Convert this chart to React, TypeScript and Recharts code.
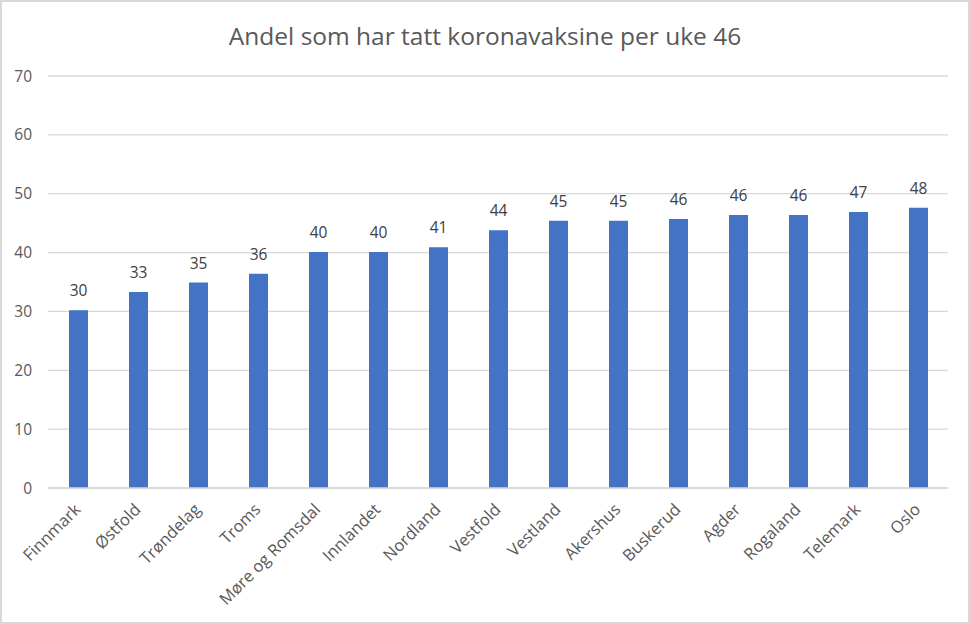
import React from "react";
import { BarChart, Bar, XAxis, YAxis, CartesianGrid, LabelList } from "recharts";

const categories = ["Finnmark", "Østfold", "Trøndelag", "Troms", "Møre og Romsdal", "Innlandet", "Nordland", "Vestfold", "Vestland", "Akershus", "Buskerud", "Agder", "Rogaland", "Telemark", "Oslo"];
const values = [30.2, 33.3, 34.9, 36.4, 40.1, 40.1, 40.9, 43.8, 45.4, 45.4, 45.7, 46.4, 46.4, 46.9, 47.6];
const yTicks = [0, 10, 20, 30, 40, 50, 60, 70];
const title = "Andel som har tatt koronavaksine per uke 46";

const data = categories.map((name, i) => ({ name, value: values[i] }));

const FONT = "'Open Sans', 'Noto Sans', sans-serif";

const XTick = (props: any) => {
  const { x, y, payload } = props;
  return (
    <g transform={`translate(${x},${y + 11})`}>
      <text textAnchor="end" transform="rotate(-45)" fill="#595959" fontSize={16.5} fontFamily={FONT} dy={5}>
        {payload.value}
      </text>
    </g>
  );
};

export default function App() {
  return (
    <div style={{ position: "fixed", left: 0, top: 0, width: 970, height: 624, background: "#fff" }}>
      <div style={{ position: "absolute", left: 0, top: 0, width: 970, height: 624, border: "2px solid #d9d9d9", boxSizing: "border-box", pointerEvents: "none", zIndex: 2 }} />
      <div style={{ position: "absolute", left: 0, top: 18, width: 970, textAlign: "center", fontFamily: FONT, fontSize: 24.5, lineHeight: "36px", color: "#595959" }}>
        {title}
      </div>
      <div style={{ position: "absolute", left: 0, top: 0 }}>
        <BarChart width={970} height={624} data={data} margin={{ top: 76, right: 22, bottom: 0, left: 0 }} barCategoryGap={0}>
          <CartesianGrid vertical={false} stroke="#d9d9d9" strokeWidth={1.3} />
          <XAxis dataKey="name" interval={0} height={136} tick={<XTick />} tickLine={false} axisLine={{ stroke: "#d9d9d9", strokeWidth: 1.3 }} />
          <YAxis domain={[0, 70]} ticks={yTicks} width={48} tickLine={false} axisLine={false} tickSize={0} tickMargin={16} tick={{ fill: "#595959", fontSize: 15.5, fontFamily: FONT }} />
          <Bar dataKey="value" fill="#4472c4" barSize={19} isAnimationActive={false}>
            <LabelList dataKey="value" position="top" offset={14} formatter={(v: any) => Math.round(v)} fill="#404040" fontSize={15.5} fontFamily={FONT} />
          </Bar>
        </BarChart>
      </div>
    </div>
  );
}
